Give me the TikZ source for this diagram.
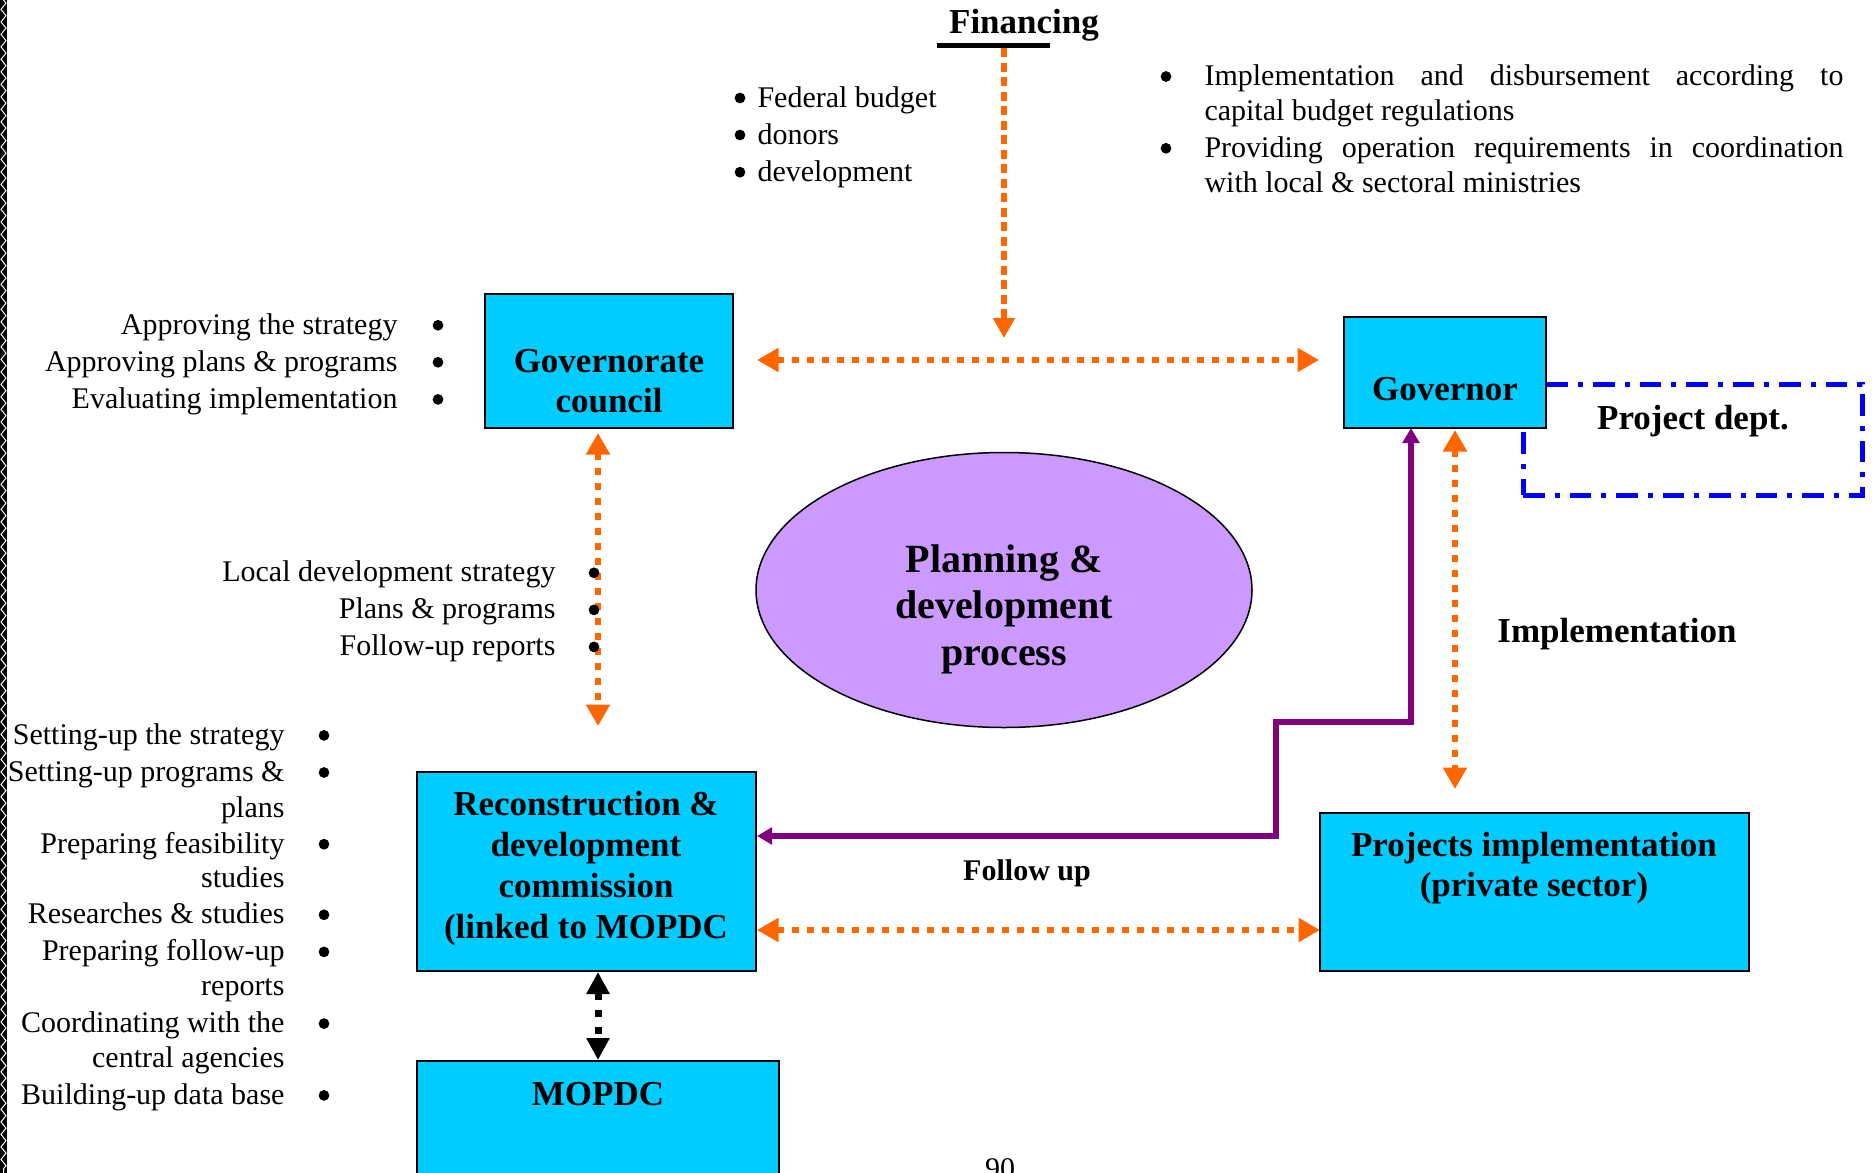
\documentclass[tikz,border=0pt]{standalone}
\usepackage{fontspec}
\setmainfont{Liberation Serif}
\usetikzlibrary{arrows.meta,shapes.geometric,decorations.pathmorphing}
\definecolor{boxcyan}{HTML}{00CCFF}
\definecolor{orng}{HTML}{FF6600}
\definecolor{purp}{HTML}{800080}
\definecolor{lav}{HTML}{CC99FF}
\definecolor{bluedd}{HTML}{0000FF}
\begin{document}
\begin{tikzpicture}[x=0.4pt,y=-0.4pt,
  box/.style={draw=black, line width=0.8pt, fill=boxcyan, inner sep=0pt},
  btxt/.style={font=\fontsize{14}{16.3}\selectfont\bfseries, align=center, inner sep=0pt},
  ptxt/.style={font=\fontsize{12}{14.8}\selectfont, inner sep=0pt},
  bul/.style={circle, fill=black, minimum size=4.3pt, inner sep=0pt},
  oarr/.style={draw=orng, line width=2.6pt, dash pattern=on 2.8pt off 3.2pt,
     {Triangle[length=8.6pt,width=9.2pt]}-{Triangle[length=8.6pt,width=9.2pt]}},
  oarrone/.style={draw=orng, line width=2.4pt, dash pattern=on 3.6pt off 2.2pt,
     -{Triangle[length=8pt,width=8.4pt]}},
  parr/.style={draw=purp, line width=2.3pt,
     {Triangle[length=6pt,width=6.6pt]}-{Triangle[length=6pt,width=6.6pt]}},
  karr/.style={draw=black, line width=2.8pt, dash pattern=on 2.8pt off 4pt,
     {Triangle[length=8.8pt,width=8.8pt]}-{Triangle[length=8.8pt,width=8.8pt]}},
  ddash/.style={draw=bluedd, line width=2pt, dash pattern=on 8.6pt off 4pt on 2pt off 4pt}]
\useasboundingbox (0,0) rectangle (1875,1173);
\clip (0,0) rectangle (1875,1173);
\fill[white] (0,0) rectangle (1875,1173);
% left decorative border
\fill[black] (0,0) rectangle (7,1173);
\draw[white, line width=0.4pt, decoration={zigzag,segment length=5pt,amplitude=1pt}, decorate] (3.5,0) -- (3.5,1173);

% Financing
\node[btxt] (fin) at (1024,25.5) {Financing};
\draw[line width=2pt] (937,45) -- (1050,45);
\coordinate (finb) at (1004,48);
\coordinate (fine) at (1004,338);
\draw[oarrone] (finb) -- (fine);

% Federal budget list
\node[bul] (fb1) at (740,98) {};
\node[bul] (fb2) at (740,135) {};
\node[bul] (fb3) at (740,172.2) {};
\node[ptxt,anchor=base west] (f1) at (757,107) {Federal budget};
\node[ptxt,anchor=base west] (f2) at (757,144) {donors};
\node[ptxt,anchor=base west] (f3) at (757,181.2) {development};

% Right block
\node[bul] (rb1) at (1166,76.5) {};
\node[bul] (rb2) at (1166,148.3) {};
\node[ptxt,anchor=base west] (r1) at (1204,85.5) {\makebox[255.6pt][s]{Implementation and disbursement according to}};
\node[ptxt,anchor=base west] (r2) at (1204,120.2) {capital budget regulations};
\node[ptxt,anchor=base west] (r3) at (1204,157.3) {\makebox[255.6pt][s]{Providing operation requirements in coordination}};
\node[ptxt,anchor=base west] (r4) at (1204,192) {with local \& sectoral ministries};

% Top-left list
\node[ptxt,anchor=base east] (a1) at (398,334.3) {Approving the strategy};
\node[ptxt,anchor=base east] (a2) at (398,371.3) {Approving plans \& programs};
\node[ptxt,anchor=base east] (a3) at (398,408.4) {Evaluating implementation};
\node[bul] (ab1) at (438,325.3) {};
\node[bul] (ab2) at (438,362.3) {};
\node[bul] (ab3) at (438,399.4) {};

% Project dept frame (behind governor)
\node[ddash, minimum width=135.6pt, minimum height=44.4pt, inner sep=0pt] (pd) at (1692.5,439.5) {};
\node[btxt] (pdt) at (1693,421) {Project dept.};

% Boxes
\node[box, minimum width=99.2pt, minimum height=53.6pt] (gc) at (609,361) {};
\node[btxt] (gct) at (609,381) {Governorate\\council};
\node[box, minimum width=80.8pt, minimum height=44.4pt] (gov) at (1445,372.5) {};
\node[btxt] (govt) at (1445,389) {Governor};
\node[box, minimum width=135.6pt, minimum height=79.6pt] (rc) at (586.5,871.5) {};
\node[btxt] (rct) at (586,868.5) {Reconstruction \&\\development\\commission\\(linked to MOPDC};
\node[box, minimum width=171.6pt, minimum height=63.2pt] (pi) at (1534.5,892) {};
\node[btxt] (pit) at (1534,868) {Projects implementation\\(private sector)};
\node[box, minimum width=144.8pt, minimum height=56pt] (mop) at (598,1131) {};
\node[btxt] (mopt) at (598,1094) {MOPDC};

% Ellipse
\node[ellipse, draw=black, line width=0.6pt, fill=lav, minimum width=198.4pt, minimum height=110pt, inner sep=0pt] (pdp) at (1004,590) {};
\node[font=\fontsize{16}{18.6}\selectfont\bfseries, align=center, inner sep=0pt] (pdpt) at (1004,609) {Planning \&\\development\\process};

% Local development list
\node[ptxt,anchor=base east] (ld1) at (556,581.8) {Local development strategy};
\node[ptxt,anchor=base east] (ld2) at (556,618.9) {Plans \& programs};
\node[ptxt,anchor=base east] (ld3) at (556,655.9) {Follow-up reports};

% Big left list
\node[ptxt,anchor=base east] (b1) at (285,744.4) {Setting-up the strategy};
\node[ptxt,anchor=base east] (b2) at (285,781.5) {Setting-up programs \&};
\node[ptxt,anchor=base east] (b3) at (285,817.4) {plans};
\node[ptxt,anchor=base east] (b4) at (285,853.2) {Preparing feasibility};
\node[ptxt,anchor=base east] (b5) at (285,887.9) {studies};
\node[ptxt,anchor=base east] (b6) at (285,923.8) {Researches \& studies};
\node[ptxt,anchor=base east] (b7) at (285,960.9) {Preparing follow-up};
\node[ptxt,anchor=base east] (b8) at (285,995.5) {reports};
\node[ptxt,anchor=base east] (b9) at (285,1032.6) {Coordinating with the};
\node[ptxt,anchor=base east] (b10) at (285,1067.3) {central agencies};
\node[ptxt,anchor=base east] (b11) at (285,1104.4) {Building-up data base};
\foreach \yy [count=\i] in {735.4,772.5,844.2,914.8,951.9,1023.6,1095.4}
  \node[bul] (bb\i) at (324,\yy) {};

% Connectors
\coordinate (h1) at (757,360);
\coordinate (h2) at (1319,360);
\draw[oarr] (h1) -- (h2);
\coordinate (v1) at (598,433);
\coordinate (v2) at (598,726);
\draw[oarr] (v1) -- (v2);
\node[bul] (ldb1) at (594,572.8) {};
\node[bul] (ldb2) at (594,609.9) {};
\node[bul] (ldb3) at (594,646.9) {};
\coordinate (g1) at (1455,430);
\coordinate (g2) at (1455,789);
\draw[oarr] (g1) -- (g2);
\coordinate (p1) at (1411,428);
\coordinate (p5) at (757,836);
\draw[parr] (p1) -- (1411,722) -- (1276,722) -- (1276,836) -- (p5);
\coordinate (o1) at (757,930);
\coordinate (o2) at (1320,930);
\draw[oarr] (o1) -- (o2);
\draw[karr] (rc.south -| mop.north) -- (mop.north);

% Labels
\node[btxt] (impl) at (1617,634) {Implementation};
\node[font=\fontsize{12}{14}\selectfont\bfseries, inner sep=0pt] (fu) at (1027,873) {Follow up};
\node[ptxt,anchor=base] (pg) at (1000,1178) {90};
\end{tikzpicture}
\end{document}
